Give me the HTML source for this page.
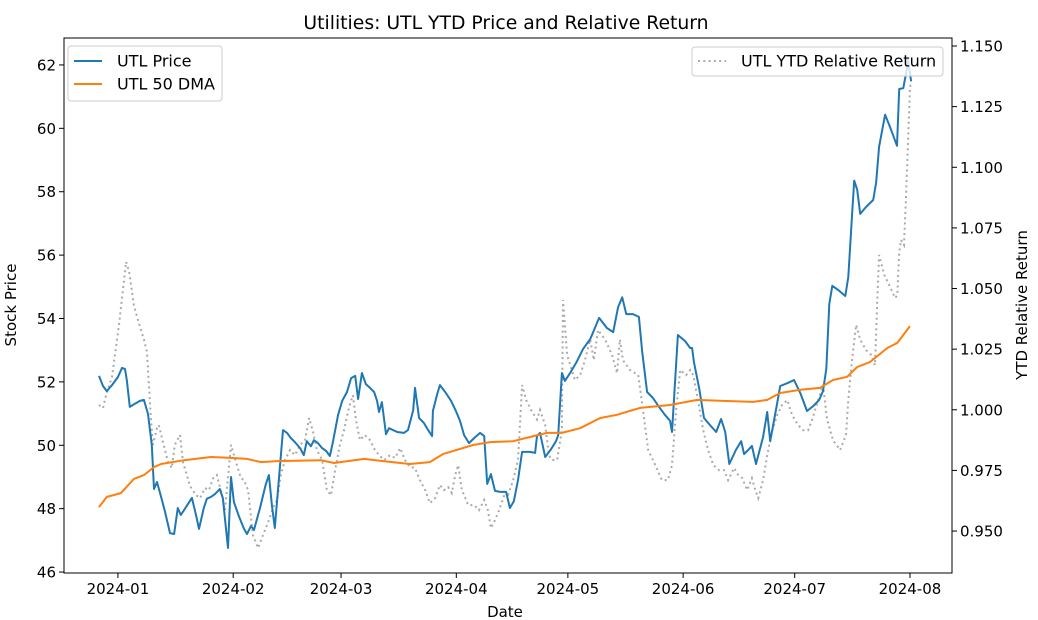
<!DOCTYPE html>
<html><head><meta charset="utf-8"><style>
html,body{margin:0;padding:0;background:#fff;}
svg{display:block;font-family:"DejaVu Sans","Liberation Sans",sans-serif;}
</style></head><body>
<svg id="chart" width="1038" height="620" viewBox="0 0 1038 620" xmlns="http://www.w3.org/2000/svg">
<rect width="1038" height="620" fill="#fff"/>
<text x="506" y="29" font-size="18.8" text-anchor="middle" fill="#000">Utilities: UTL YTD Price and Relative Return</text>
<g id="plot"></g>
<text x="505" y="617" font-size="15" text-anchor="middle">Date</text>
<text x="16" y="305" font-size="15" text-anchor="middle" transform="rotate(-90 16 305)">Stock Price</text>
<text x="1027" y="305" font-size="15" text-anchor="middle" transform="rotate(-90 1027 305)">YTD Relative Return</text>
<g>
<rect x="68" y="46" width="154" height="55" rx="3" fill="#fff" fill-opacity="0.8" stroke="#ccc"/>
<g><line x1="74" y1="61" x2="102" y2="61" stroke="#1f77b4" stroke-width="2"/><text x="117" y="66.5" font-size="16">UTL Price</text></g>
<g><line x1="74" y1="84" x2="102" y2="84" stroke="#ff7f0e" stroke-width="2"/><text x="117" y="89.5" font-size="16">UTL 50 DMA</text></g>
</g>
<g>
<rect x="692" y="47" width="251" height="29" rx="3" fill="#fff" fill-opacity="0.8" stroke="#ccc"/>
<g><line x1="698" y1="61" x2="726" y2="61" stroke="#aaa" stroke-width="2" stroke-dasharray="2,3.3"/><text x="741" y="66.5" font-size="16">UTL YTD Relative Return</text></g>
</g>
</svg>
<script>
// days since 2024-01-01
const priceDays=[-5.1,-4,-3,-1.6,0,1.1,1.9,2.4,3.2,4,5.9,7,8.1,9.1,9.7,10.5,11.6,12.6,14,15.1,16.1,16.9,18.3,19.9,21,21.8,23.1,23.9,25,26.1,27.4,28.2,29.6,30.4,31.2,32.5,33.9,34.7,35.8,36.6,38.2,39.8,40.6,41.4,42.2,44.4,45.5,46.5,47.6,49,50,50.8,51.9,52.7,53.8,54.9,56,57,57.8,59.2,60.3,61.6,62.7,63.8,64.6,65.6,66.7,67.8,68.9,69.7,70.2,71,72.1,72.9,75.1,76.9,78,79.4,79.9,81,82.3,83.4,84.5,84.7,85.8,86.6,88,89.6,90.9,92,93.1,94.4,95.8,97.4,98.5,99.3,100.3,101.4,102.8,104.4,105.4,106.5,107.6,108.7,110.8,112.2,112.7,113.5,114.9,116.5,117.8,118.4,119.4,120.2,121.6,123.2,125.1,127,127.8,129.4,131.5,133.2,134.5,135.6,136.7,138.5,140.1,141,142.3,143.9,145.5,147.1,148.5,149,150.6,152.5,153.9,154.4,154.9,156.3,157.6,159.2,160.9,162.2,163.3,164.4,166.2,167.6,168.4,169.5,170.5,171.6,173.5,174.6,175.4,177.3,178.1,180,181.8,183.5,185.3,187,188.6,189.6,190.5,191.3,192.1,193.7,195.6,196.4,197.4,198,198.8,199.6,201.2,203.1,203.9,204.7,206.3,207.7,209.5,210.1,211.2,212.3,212.5,213.3];
const priceValues=[52.19,51.87,51.71,51.9,52.15,52.44,52.41,52.06,51.21,51.27,51.4,51.43,50.99,50.01,48.62,48.84,48.37,47.93,47.23,47.2,48.02,47.8,48.05,48.34,47.8,47.36,48.02,48.31,48.37,48.46,48.62,48.34,46.76,49,48.21,47.77,47.36,47.2,47.45,47.33,48.02,48.78,49.06,48.11,47.39,50.48,50.39,50.23,50.1,49.91,49.69,50.13,49.97,50.16,50.07,49.91,49.82,49.66,50.1,50.96,51.4,51.68,52.12,52.19,51.46,52.28,51.93,51.81,51.68,51.4,51.05,51.36,50.35,50.54,50.42,50.39,50.48,51.11,51.81,50.86,50.7,50.48,50.29,51.08,51.59,51.9,51.68,51.4,51.08,50.77,50.32,50.07,50.23,50.39,50.29,48.78,49.09,48.56,48.53,48.53,48.02,48.24,48.9,49.79,49.79,49.76,50.29,50.39,49.63,49.88,50.13,50.32,52.28,52.03,52.28,52.6,53.04,53.35,53.57,54.02,53.7,53.57,54.36,54.67,54.14,54.14,54.05,52.95,51.68,51.49,51.21,50.96,50.77,50.42,53.48,53.29,53.07,53.07,52.63,51.81,50.86,50.64,50.42,50.83,50.42,49.41,49.85,50.13,49.72,49.85,49.98,49.41,50.26,51.05,50.13,51.33,51.87,51.96,52.06,51.65,51.08,51.24,51.43,51.71,52.41,54.46,55.03,54.9,54.71,55.31,57.24,58.35,58.06,57.3,57.52,57.74,58.28,59.42,60.43,60.02,59.45,61.24,61.27,61.97,62.16,61.49];
const dmaDays=[-5.1,-3,0.8,4.3,7,9.7,11.6,17.8,25,30.4,34.7,38.5,42.8,54.6,58.1,66.2,71.3,78.5,83.9,87.4,95.5,100.1,106.3,110.8,115.4,119.4,124.3,129.7,134.2,140.4,148.5,155.8,162.7,170.8,174.6,178.1,183.5,188.8,192.3,196.1,198.8,202.3,206.9,209.6,213];
const dmaValues=[48.05,48.37,48.49,48.94,49.06,49.31,49.41,49.53,49.63,49.6,49.57,49.47,49.5,49.53,49.44,49.57,49.5,49.41,49.47,49.72,50.01,50.1,50.13,50.26,50.39,50.39,50.54,50.86,50.96,51.18,51.27,51.43,51.4,51.37,51.43,51.65,51.75,51.81,52.06,52.16,52.47,52.63,53.07,53.23,53.76];
const relDays=[-5.1,-4,-3.2,-1.6,0.3,1.3,2.2,3,4.3,5.4,7,7.8,8.9,9.4,10.5,11,12.1,13.5,14.5,15.3,16.7,17.5,19.4,21,22.1,23.4,24.5,25.6,26.6,28,28.8,30.4,32,33.1,33.9,35,36.3,37.7,38.7,40.4,42,42.8,43.8,44.9,46.3,47.6,49,50.3,51.4,52.5,53.5,54.9,56.2,57.3,58.4,59.7,60.8,62.1,63.2,64,65.1,66.4,67.8,69.1,70.2,71.6,73.2,74.5,75.9,77.2,78.5,79.9,81.2,82.6,83.9,85.3,86.6,87.7,88.8,89.8,90.7,91.5,92.5,94.2,95.8,97.1,98.5,99.5,100.3,101.4,102.5,103.8,104.9,106.3,107.6,108.7,109.8,111.1,112.7,113.5,114.9,115.9,116.7,118.1,119.4,119.7,120.8,122.9,124.3,125.6,127,128,129.1,131,132.9,134.2,135,135.8,137.7,139.9,141.2,142.6,144.5,146.3,147.9,149,150.1,151.2,152.8,153.9,154.7,156,157.4,158.7,160.1,161.7,163,164.1,165.7,166.8,167.9,169.2,170.5,171.4,172.2,173.5,174.6,176,177.3,178.6,180,181.3,182.9,184.3,185.6,186.7,188.3,189.6,190.7,192.3,194.2,195.8,196.4,197.4,198.5,199.6,201.2,202.6,203.6,204.2,204.7,206.1,207.4,209,209.6,210.1,210.6,211.4,211.9,212.5,213,213.3];
const relValues=[1.002,1.0007,1.006,1.0135,1.035,1.049,1.061,1.057,1.043,1.037,1.029,1.024,0.996,0.9855,0.9925,0.9937,0.9867,0.9784,0.976,0.9855,0.9896,0.9784,0.9685,0.9648,0.9636,0.9677,0.9669,0.9718,0.9731,0.9648,0.9586,0.9855,0.9772,0.9718,0.971,0.9669,0.9483,0.943,0.9471,0.9537,0.9607,0.9628,0.9731,0.9793,0.9834,0.9813,0.9855,0.9875,0.9966,0.9908,0.9834,0.9793,0.9669,0.9648,0.9751,0.9855,0.9916,1.0007,1.006,0.996,0.9875,0.9896,0.9875,0.9834,0.9813,0.9793,0.9813,0.9801,0.9842,0.9793,0.9764,0.976,0.971,0.9669,0.9615,0.9636,0.969,0.9669,0.9681,0.9657,0.9731,0.9772,0.9669,0.9607,0.9607,0.9586,0.9628,0.9586,0.9512,0.9545,0.9586,0.9644,0.9648,0.971,0.9793,1.0102,1.004,0.9999,0.996,0.9999,0.9937,0.9813,0.9793,0.9793,0.9916,1.0453,1.0226,1.0123,1.0143,1.0205,1.029,1.0205,1.0329,1.029,1.0226,1.0151,1.029,1.0205,1.0164,1.0143,0.9999,0.9834,0.9772,0.971,0.971,0.9772,0.9999,1.0164,1.0143,1.0164,1.0143,1.004,0.9916,0.9834,0.9772,0.9751,0.9751,0.971,0.976,0.9731,0.9718,0.9669,0.9718,0.9669,0.9636,0.971,0.9813,0.9916,0.9978,1.002,1.004,0.9978,0.9937,0.9916,0.9916,0.996,1.004,1.0102,0.996,0.9875,0.9834,0.9896,1.004,1.0205,1.035,1.029,1.0246,1.0226,1.0184,1.0453,1.0638,1.0556,1.0514,1.0461,1.0473,1.065,1.07,1.0679,1.0865,1.1112,1.1327,1.136];
const xTickLabels=["2024-01","2024-02","2024-03","2024-04","2024-05","2024-06","2024-07","2024-08"];
const xTickDays=[0,31,60,91,121,152,182,213];
const yLeftTicks=[46,48,50,52,54,56,58,60,62];
const yRightTicks=[0.950,0.975,1.000,1.025,1.050,1.075,1.100,1.125,1.150];

const L=64,R=952,T=38,B=573;
const xMin=-14.5,xMax=224.3,yMin=45.97,yMax=62.85,rMin=0.9327,rMax=1.1533;
const X=d=>L+(d-xMin)/(xMax-xMin)*(R-L);
const Y=v=>B-(v-yMin)/(yMax-yMin)*(B-T);
const YR=v=>B-(v-rMin)/(rMax-rMin)*(B-T);
const NS="http://www.w3.org/2000/svg";
const g=document.getElementById('plot');
function mk(tag,attrs,parent){const e=document.createElementNS(NS,tag);for(const k in attrs)e.setAttribute(k,attrs[k]);(parent||g).appendChild(e);return e;}
function pts(ds,vs,f){return ds.map((d,i)=>X(d).toFixed(1)+','+f(vs[i]).toFixed(1)).join(' ');}

const rel=mk('polyline',{points:pts(relDays,relValues,YR),fill:'none',stroke:'#aaa','stroke-width':2,'stroke-dasharray':'2,3.3'});


const pr=mk('polyline',{points:pts(priceDays,priceValues,Y),fill:'none',stroke:'#1f77b4','stroke-width':2,'stroke-linejoin':'round'});


const dm=mk('polyline',{points:pts(dmaDays,dmaValues,Y),fill:'none',stroke:'#ff7f0e','stroke-width':2,'stroke-linejoin':'round'});



const frame=mk('rect',{x:L,y:T,width:R-L,height:B-T,fill:'none',stroke:'#000','stroke-width':1});



xTickDays.forEach((d,i)=>{
  const x=X(d);
  mk('line',{x1:x,y1:B,x2:x,y2:B+5,stroke:'#000'});
  const t=mk('text',{x:x,y:B+21,'font-size':15,'text-anchor':'middle'});
  t.textContent=xTickLabels[i];
  
  
});
yLeftTicks.forEach(v=>{
  const y=Y(v);
  mk('line',{x1:L-5,y1:y,x2:L,y2:y,stroke:'#000'});
  const t=mk('text',{x:L-8,y:y+5.5,'font-size':15,'text-anchor':'end'});
  t.textContent=String(v);
  
  
});
yRightTicks.forEach(v=>{
  const y=YR(v);
  mk('line',{x1:R,y1:y,x2:R+5,y2:y,stroke:'#000'});
  const t=mk('text',{x:R+8,y:y+5.5,'font-size':15,'text-anchor':'start'});
  t.textContent=v.toFixed(3);
  
  
});
</script>
</body></html>
